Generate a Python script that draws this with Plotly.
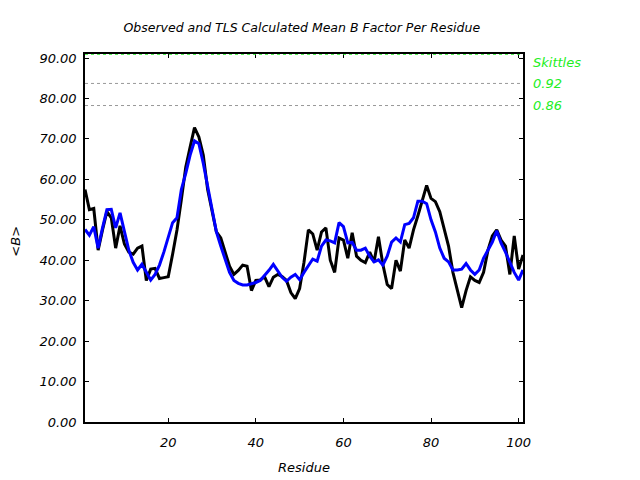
import plotly.graph_objects as go

residues = list(range(1, 102))

observed = [57.5, 52.5, 52.8, 42.5, 47.5, 52.0, 50.5, 43.0, 48.5, 44.0,
            42.0, 41.5, 43.0, 43.5, 35.0, 37.8, 38.0, 35.5, 35.7, 35.9,
            41.5, 47.5, 55.0, 63.0, 68.0, 72.8, 70.5, 66.0, 57.5, 52.0,
            47.0, 45.5, 42.0, 38.5, 36.5, 37.5, 38.8, 38.5, 32.5, 35.0,
            35.1, 35.9, 33.5, 35.8, 36.5, 36.0, 35.0, 32.0, 30.5, 33.0,
            39.5, 47.5, 46.5, 42.5, 47.0, 48.0, 40.0, 37.0, 45.5, 45.0,
            40.5, 46.8, 41.0, 40.0, 39.4, 42.0, 39.6, 45.8, 39.0, 34.0,
            33.0, 40.0, 37.3, 45.0, 43.0, 47.5, 51.0, 55.0, 58.5, 55.3,
            54.5, 52.0, 47.5, 43.5, 37.0, 33.0, 28.3, 32.5, 35.9, 35.0,
            34.5, 37.0, 42.5, 46.0, 47.5, 45.0, 43.5, 36.5, 46.0, 37.8,
            41.3]

tls_calc = [47.6, 46.2, 48.3, 43.0, 48.0, 52.5, 52.6, 48.0, 51.7, 47.0,
            42.5, 39.5, 37.6, 39.0, 37.0, 35.1, 36.5, 38.8, 42.0, 46.0,
            49.3, 50.5, 57.5, 61.5, 66.0, 69.5, 68.8, 64.0, 58.0, 52.0,
            47.0, 43.5, 40.1, 37.0, 35.0, 34.3, 33.9, 33.9, 34.2, 34.5,
            35.0, 36.2, 37.5, 39.0, 37.5, 35.8, 34.8, 35.8, 36.5, 35.2,
            37.0, 38.5, 40.3, 39.8, 43.5, 45.0, 44.8, 44.3, 49.3, 48.3,
            44.3, 44.4, 42.5, 42.5, 43.0, 41.0, 39.6, 40.1, 38.8, 41.0,
            44.5, 45.5, 44.5, 48.8, 49.1, 50.5, 54.6, 54.6, 54.0, 50.0,
            47.0, 43.0, 40.5, 39.6, 37.6, 37.6, 37.8, 39.2, 37.6, 36.5,
            37.6, 40.5, 42.5, 44.5, 47.3, 44.2, 42.0, 39.5, 37.0, 35.1,
            37.6]

y_max = 91.0
skittles_labels = ["Skittles", "0.92", "0.86"]
skittles_fracs = [1.0, 0.92, 0.86]

x_ticks = [20, 40, 60, 80, 100]
y_ticks = [0, 10, 20, 30, 40, 50, 60, 70, 80, 90]

green = "#22ee22"
font_family = "DejaVu Sans"

fig = go.Figure()

# Gray dotted reference lines
for frac in skittles_fracs[1:]:
    fig.add_trace(go.Scatter(
        x=[residues[0], residues[-1]], y=[frac * y_max, frac * y_max],
        mode="lines", line=dict(color="#999999", width=1, dash="dot"),
        hoverinfo="skip", showlegend=False))

fig.add_trace(go.Scatter(x=residues, y=observed, mode="lines",
                         line=dict(color="#000000", width=3),
                         name="Observed", showlegend=False))
fig.add_trace(go.Scatter(x=residues, y=tls_calc, mode="lines",
                         line=dict(color="#0000ff", width=3),
                         name="TLS Calculated", showlegend=False))

# green dotted line at top
fig.add_shape(type="line", xref="x", yref="y",
              x0=residues[0], x1=residues[-1],
              y0=skittles_fracs[0] * y_max, y1=skittles_fracs[0] * y_max,
              line=dict(color=green, width=1.5, dash="dot"), layer="above")

for lab, frac in zip(skittles_labels, skittles_fracs):
    fig.add_annotation(x=1.0, xref="paper", xshift=8,
                       y=frac * y_max, yref="y", yshift=1 if frac == 1.0 else 0,
                       text=lab, showarrow=False,
                       xanchor="left",
                       yanchor="top" if frac == 1.0 else "middle",
                       font=dict(family=font_family, size=13, color=green,
                                 style="italic"))

axis_font = dict(family=font_family, size=13, color="#000000", style="italic")

# y-axis title as a rotated annotation
fig.add_annotation(x=0, xref="paper", xshift=-69, y=0.49, yref="paper",
                   text="&lt;B&gt;", textangle=-90, showarrow=False,
                   xanchor="center", yanchor="middle", font=axis_font)

fig.update_layout(
    width=640, height=480,
    paper_bgcolor="white", plot_bgcolor="white",
    margin=dict(l=77, r=125, t=46, b=66, autoexpand=False),
    title=dict(text="Observed and TLS Calculated Mean B Factor Per Residue",
               x=0.495, xref="paper", xanchor="center",
               y=1 - 20 / 480, yanchor="middle",
               font=dict(family=font_family, size=12.5, color="#000000",
                         style="italic")),
    xaxis=dict(range=[1, 101], tickvals=x_ticks, ticks="inside", ticklen=4,
               tickcolor="#000000", showline=True, linecolor="#000000",
               linewidth=1.5, mirror="ticks", showgrid=False, zeroline=False,
               tickfont=axis_font, ticklabelstandoff=8,
               title=dict(text="Residue", font=axis_font, standoff=14)),
    yaxis=dict(range=[0, y_max], tickvals=y_ticks, tickformat=".2f",
               ticks="inside", ticklen=4, tickcolor="#000000",
               showline=True, linecolor="#000000", linewidth=1.5,
               mirror="ticks", showgrid=False, zeroline=False,
               tickfont=axis_font, ticklabelstandoff=4),
)

fig.write_html("out.html")
